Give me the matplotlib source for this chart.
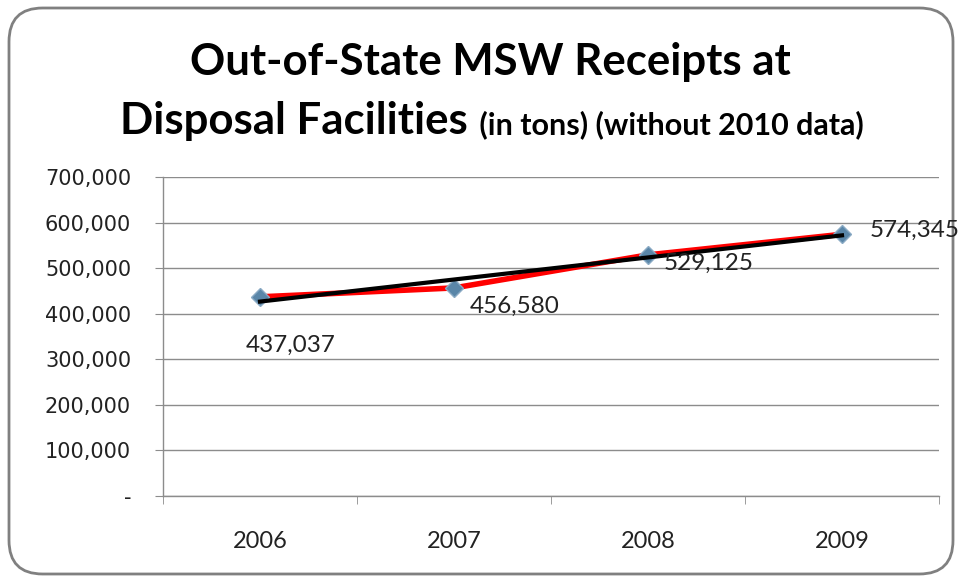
import matplotlib.pyplot as plt
import numpy as np
from matplotlib.patches import FancyBboxPatch
from matplotlib.ticker import FuncFormatter

years = ['2006', '2007', '2008', '2009']
tons = [437037, 456580, 529125, 574345]
yticks = [0, 100000, 200000, 300000, 400000, 500000, 600000, 700000]
# label offsets in points (dx, dy) from each point
label_offsets = [(22, -35), (44, -13), (44, -6), (20, 3)]
label_ha = ['center', 'center', 'center', 'left']

fig = plt.figure(figsize=(9.61, 5.82), dpi=100)
fig.patch.set_facecolor('white')

# rounded outer frame
frame = FancyBboxPatch((9/961, 8/582), 944/961, 566/582,
                       boxstyle='round,pad=0,rounding_size=0.035',
                       transform=fig.transFigure, facecolor='none',
                       edgecolor='#808080', lw=2, mutation_aspect=961/582,
                       zorder=-1)
fig.patches.append(frame)

ax = fig.add_axes([163/961, 1 - 496/582, (939 - 163)/961, (496 - 177)/582])
ax.set_facecolor('none')

x = np.arange(len(years))
ax.plot(x, tons, color='#ff0000', lw=4, zorder=3)
ax.plot(x, tons, linestyle='none', marker='D', markersize=9,
        color='#5a86a8', markeredgecolor='#8aaac4', zorder=4)

# linear trendline
k, b = np.polyfit(x, tons, 1)
ax.plot(x, k * x + b, color='black', lw=3, zorder=5)

for xi, v, off, ha in zip(x, tons, label_offsets, label_ha):
    ax.annotate(f'{v:,}', (xi, v), xytext=off, textcoords='offset points',
                ha=ha, va='center', fontsize=17.5, family='Lato',
                color='#222222', zorder=6, annotation_clip=False)

ax.set_xlim(-0.5, 3.5)
ax.set_ylim(0, 700000)
ax.set_yticks(yticks)
ax.yaxis.set_major_formatter(FuncFormatter(lambda v, p: '-' if v == 0 else f'{int(v):,}'))
ax.grid(axis='y', color='#8c8c8c', lw=1)
ax.set_axisbelow(True)

ax.set_xticks(x)
ax.set_xticklabels(years, family='Lato', fontsize=17, color='#222222')
ax.set_xticks(np.arange(-0.5, 4, 1), minor=True)
ax.tick_params(axis='x', which='major', length=0, pad=25)
ax.tick_params(axis='x', which='minor', length=6, color='#8c8c8c', direction='out')
ax.tick_params(axis='y', length=6, color='#8c8c8c', pad=17, labelsize=15,
               labelcolor='#222222')

for s in ['top', 'right']:
    ax.spines[s].set_visible(False)
for s in ['left', 'bottom']:
    ax.spines[s].set_color('#8c8c8c')
    ax.spines[s].set_linewidth(1)

# title
fig.text(490/961, 1 - 62/582, 'Out-of-State MSW Receipts at', ha='center',
         va='center', family='Lato', fontweight='bold', fontsize=31.5)
t2 = fig.text(120/961, 1 - 121/582, 'Disposal Facilities', ha='left',
              va='center', family='Lato', fontweight='bold', fontsize=31.5)
ax.annotate(' (in tons) (without 2010 data)', xy=(1, 0), xycoords=t2,
            xytext=(3, 1), textcoords='offset points', ha='left', va='bottom',
            family='Lato', fontweight='bold', fontsize=22,
            annotation_clip=False)

fig.savefig('out.png', dpi=100)
